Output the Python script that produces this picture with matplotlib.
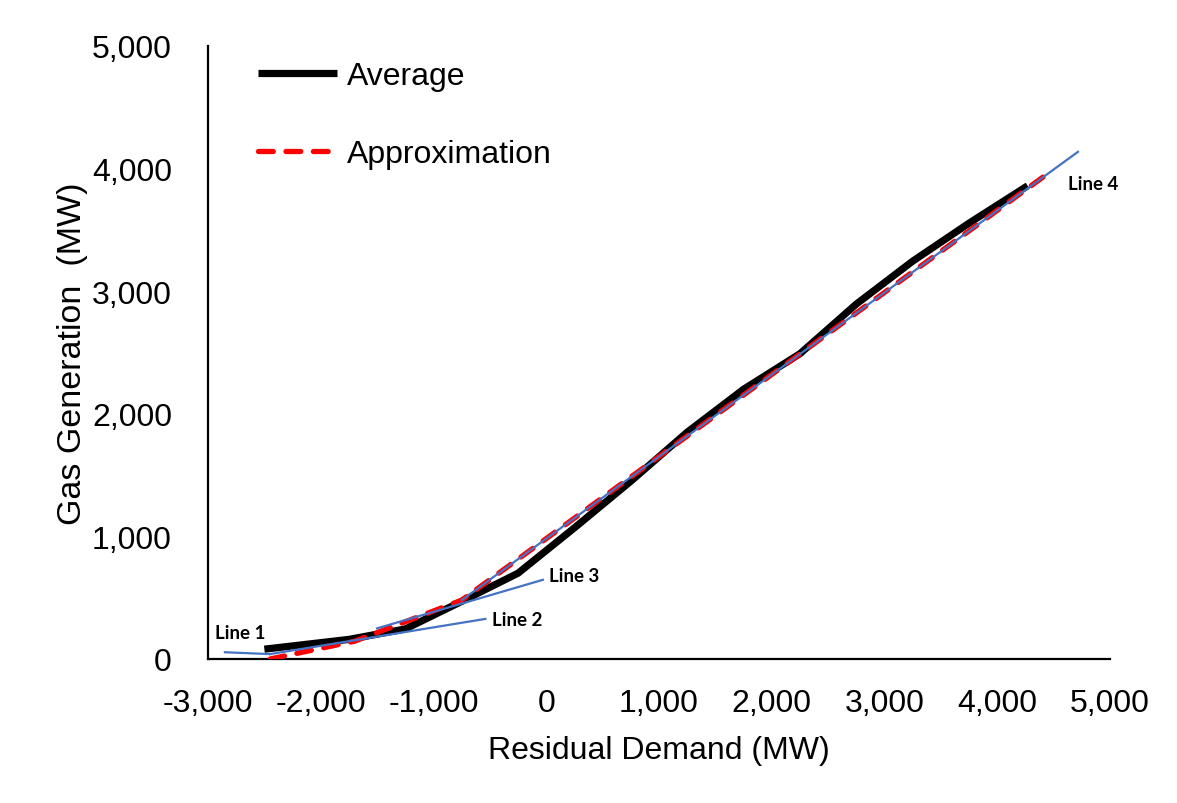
import matplotlib.pyplot as plt
from matplotlib.ticker import FuncFormatter

plt.rcParams["font.family"] = ["Liberation Sans", "DejaVu Sans"]

# average gas generation vs residual demand (MW)
avg_x = [-2500, -1750, -1250, -750, -250, 250, 750, 1250, 1750, 2250, 2750, 3250, 3750, 4270]
avg_y = [80, 160, 245, 470, 700, 1070, 1450, 1850, 2200, 2490, 2895, 3245, 3555, 3860]

# piecewise-linear approximation
approx_x = [-2450, -1700, -750, 4406]
approx_y = [0, 145, 480, 3931]

# the four fitted lines (start / end)
line1_x = [-2850, -2450]
line1_y = [55, 40]
line2_x = [-2450, -540]
line2_y = [40, 327]
line3_x = [-1500, -30]
line3_y = [250, 646]
line4_x = [-750, 4716]
line4_y = [480, 4137]

line_labels = ["Line 1", "Line 2", "Line 3", "Line 4"]
label_x = [-2716, -260, 246, 4849]
label_y = [220, 326, 685, 3882]

fig = plt.figure(figsize=(11.77, 8.04), dpi=100)
ax = fig.add_axes([208 / 1177, (804 - 660) / 804, 902 / 1177, 613 / 804])

ax.plot(avg_x, avg_y, color="black", lw=5.2, solid_capstyle="butt", solid_joinstyle="round",
        label="Average", zorder=2)
ax.plot(approx_x, approx_y, color="red", lw=3.8, ls=(0, (2.8, 2.4)), dash_capstyle="round",
        label="Approximation", zorder=3)

blue = "#4472C4"
for lx, ly in [(line1_x, line1_y), (line2_x, line2_y), (line3_x, line3_y), (line4_x, line4_y)]:
    ax.plot(lx, ly, color=blue, lw=1.6, zorder=4)

for txt, tx, ty in zip(line_labels, label_x, label_y):
    ax.text(tx, ty, txt, fontsize=13.5, fontweight="bold", family="Lato",
            ha="center", va="center")

ax.set_xlim(-3000, 5000)
ax.set_ylim(0, 5000)
ax.set_xticks(range(-3000, 5001, 1000))
ax.set_yticks(range(0, 5001, 1000))
fmt = FuncFormatter(lambda v, p: f"{int(v):,}")
ax.xaxis.set_major_formatter(fmt)
ax.yaxis.set_major_formatter(fmt)
ax.tick_params(axis="x", length=0, pad=21, labelsize=23)
ax.tick_params(axis="y", length=0, pad=26, labelsize=23)

for s in ["top", "right"]:
    ax.spines[s].set_visible(False)
ax.spines["left"].set_linewidth(1.6)
ax.spines["bottom"].set_linewidth(1.6)

ax.set_xlabel("Residual Demand (MW)", fontsize=23, labelpad=12)
ax.set_ylabel("Gas Generation  (MW)", fontsize=24.5, labelpad=3)

leg = ax.legend(loc="upper left", bbox_to_anchor=(0.055, 0.975), frameon=False, fontsize=23,
                handlelength=2.5, handletextpad=0.3, labelspacing=1.5,
                borderpad=0, borderaxespad=0)

fig.savefig("out.png", dpi=100)
